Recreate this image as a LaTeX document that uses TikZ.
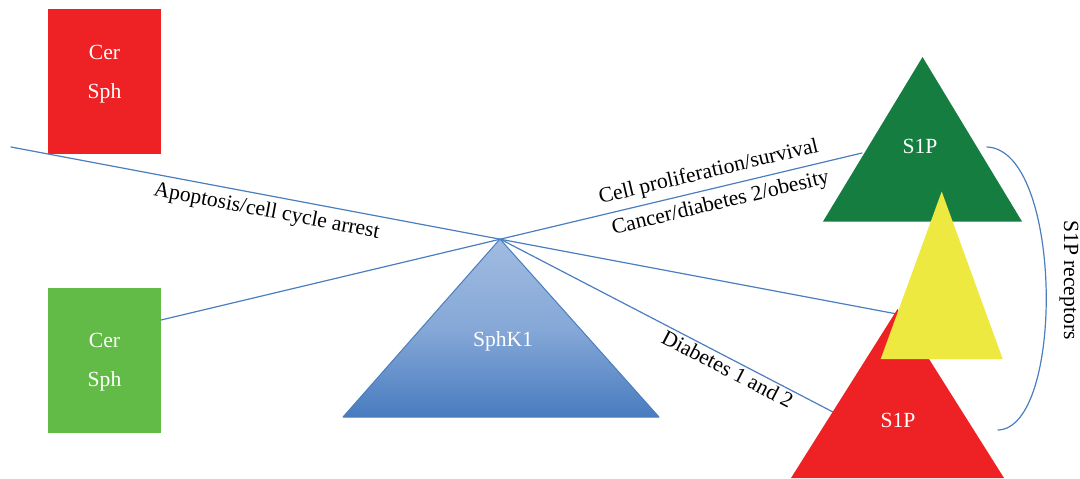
\documentclass[tikz,border=0pt]{standalone}
\usepackage{fontspec}
\setmainfont{Liberation Serif}
\begin{document}
\begin{tikzpicture}
% TikZ picture laid out on a pixel grid
\def\pxsz{0.5pt}
\definecolor{cerRedFill}{RGB}{238,34,36}
\definecolor{cerGreenFill}{RGB}{99,187,71}
\definecolor{sipGreenFill}{RGB}{20,125,63}
\definecolor{sipYellowFill}{RGB}{237,233,64}
\definecolor{linkBlue}{RGB}{74,126,191}
\definecolor{sphkTopColor}{RGB}{160,187,225}
\definecolor{sphkBottomColor}{RGB}{72,124,192}
\providecommand{\labelFont}{\fontsize{10.8}{13}\selectfont}
\providecommand{\boxFont}{\fontsize{10.8}{19.5}\selectfont}
\begin{scope}[x=\pxsz, y=-\pxsz, line cap=round, line join=round,
  cellbox/.style={minimum width=56.5pt, minimum height=72.5pt, inner sep=0pt, draw=none},
  whitetext/.style={text=white, font=\boxFont, align=center, inner sep=0pt},
  linktext/.style={text=black, font=\labelFont, inner sep=0pt, sloped},
  link/.style={draw=linkBlue, line width=0.6pt}]
  % Page frame
  \useasboundingbox (0,0) rectangle (1080,478);
  % Cer/Sph boxes
  \node[cellbox, fill=cerRedFill] (cerTop) at (104.5,81.5) {};
  \node[cellbox, fill=cerGreenFill] (cerBottom) at (104.5,360.5) {};
  \node[whitetext] (cerTopText) at (104.5,74) {Cer\\Sph};
  \node[whitetext] (cerBottomText) at (104.5,362) {Cer\\Sph};
  % Connector end points
  \coordinate (leftEnd) at (11,147);
  \coordinate (greenOut) at (161,320);
  \coordinate (sphkApex) at (500,239);
  \coordinate (greenHit) at (862,153);
  \coordinate (yellowHit) at (897,314);
  \coordinate (redHit) at (833,412);
  % Connectors through the SphK1 apex
  \draw[link] (leftEnd) -- node[linktext, pos=0.292, below=3pt] (apoptosisLabel) {Apoptosis/cell cycle arrest} (yellowHit);
  \draw[link] (greenOut) -- node[linktext, pos=0.787, above=3pt] (prolifLabel) {Cell proliferation/survival}
    node[linktext, pos=0.793, below=3pt] (cancerLabel) {Cancer/diabetes 2/obesity} (greenHit);
  \draw[link] (sphkApex) -- node[linktext, pos=0.698, below=1pt] (diabetesLabel) {Diabetes 1 and 2} (redHit);
  % SphK1 triangle
  \shade[top color=sphkTopColor, bottom color=sphkBottomColor, middle color=sphkTopColor!70!sphkBottomColor,
    draw=linkBlue, line width=0.5pt] (sphkApex) -- (659,417) -- (343,417) -- cycle;
  \node[whitetext] (sphkText) at (503,341) {SphK1};
  % S1P receptor triangles
  \fill[sipGreenFill] (922.5,57) -- (1022,221.5) -- (823,221.5) -- cycle;
  \fill[cerRedFill] (897.5,309) -- (1004,478) -- (791,478) -- cycle;
  \fill[sipYellowFill] (941.7,191.5) -- (1002.7,359) -- (880.7,359) -- cycle;
  \node[whitetext] (sipTopText) at (920,146) {S1P};
  \node[whitetext] (sipBottomText) at (898,420) {S1P};
  % Receptor bracket
  \coordinate (bracketTop) at (987,147);
  \coordinate (bracketBottom) at (998,430);
  \draw[link] (bracketTop) .. controls (1063,150) and (1065,428) .. (bracketBottom);
  \node[font=\labelFont, rotate=-90, inner sep=0pt] (receptorLabel) at (1069,280) {S1P receptors};
\end{scope}
\end{tikzpicture}
\end{document}
